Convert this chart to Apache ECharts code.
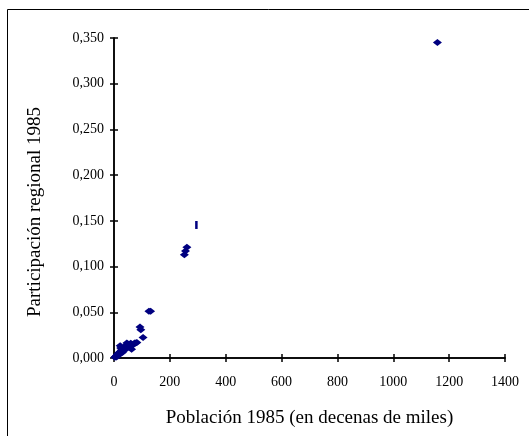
<!DOCTYPE html>
<html>
<head>
<meta charset="utf-8">
<script src="https://cdn.jsdelivr.net/npm/echarts@6/dist/echarts.min.js"></script>
<style>
html,body{margin:0;padding:0;background:#fff;}
#chart{width:529px;height:436px;}
</style>
</head>
<body>
<div id="chart"></div>
<script>
// Population 1985 (tens of thousands) and regional share 1985
const poblacion = [3,5,7,9,10,12,14,16,18,20,22,24,26,28,30,32,35,38,40,42,46,50,53,56,60,63,66,70,74,78,82,
  93,96,104,125,131,252,256,261,1158];
const participacion = [0.0008,0.0015,0.002,0.0012,0.003,0.004,0.0025,0.005,0.006,0.0045,0.0135,0.011,0.008,0.009,0.006,0.010,0.0105,0.012,0.009,0.0135,0.0165,0.014,0.015,0.012,0.016,0.0095,0.014,0.015,0.0165,0.0165,0.017,
  0.034,0.031,0.0225,0.051,0.051,0.113,0.117,0.121,0.345];
// Point drawn with a thin vertical marker
const poblacionBar = [295];
const participacionBar = [0.1455];

const xTicks = {min:0, max:1400, interval:200};
const yTicks = {min:0, max:0.35, interval:0.05};
const xTitle = 'Población 1985 (en decenas de miles)';
const yTitle = 'Participación regional 1985';

const font = 'Liberation Serif';
const chart = echarts.init(document.getElementById('chart'));
const pts = poblacion.map((x,i)=>[x, participacion[i]]);
const barPts = poblacionBar.map((x,i)=>[x, participacionBar[i]]);

const axisLine = {show:true, lineStyle:{color:'#000', width:1.5}};
chart.setOption({
  animation:false,
  backgroundColor:'#fff',
  graphic:[{type:'rect', shape:{x:7.5,y:9.5,width:700,height:700}, style:{fill:null, stroke:'#000', lineWidth:1}, silent:true}],
  grid:{left:114, right:24, top:38, bottom:78},
  xAxis:[{
    type:'value', min:xTicks.min, max:xTicks.max, interval:xTicks.interval, position:'bottom',
    axisLine:axisLine, axisTick:{show:true, length:4, lineStyle:{color:'#000', width:1.5}},
    splitLine:{show:false},
    axisLabel:{color:'#000', fontFamily:font, fontSize:14, margin:17, formatter:v=>String(v)},
    name:xTitle, nameLocation:'middle', nameGap:51,
    nameTextStyle:{color:'#000', fontFamily:font, fontSize:19}
  },{
    type:'value', min:xTicks.min, max:xTicks.max, interval:xTicks.interval, position:'bottom',
    axisLine:axisLine, axisTick:{show:true, inside:true, length:4, lineStyle:{color:'#000', width:1.5}},
    splitLine:{show:false}, axisLabel:{show:false}
  }],
  yAxis:[{
    type:'value', min:yTicks.min, max:yTicks.max, interval:yTicks.interval, position:'left',
    axisLine:axisLine, axisTick:{show:true, length:4, lineStyle:{color:'#000', width:1.5}},
    splitLine:{show:false},
    axisLabel:{color:'#000', fontFamily:font, fontSize:14, margin:10,
      formatter:v=>v.toFixed(3).replace('.',',')},
    name:yTitle, nameLocation:'middle', nameGap:69, nameRotate:90,
    nameTextStyle:{color:'#000', fontFamily:font, fontSize:19, padding:[0,28,0,0]}
  },{
    type:'value', min:yTicks.min, max:yTicks.max, interval:yTicks.interval, position:'left',
    axisLine:axisLine, axisTick:{show:true, inside:true, length:4, lineStyle:{color:'#000', width:1.5}},
    splitLine:{show:false}, axisLabel:{show:false}
  }],
  series:[{
    type:'scatter', data:pts, symbol:'diamond', symbolSize:[9,7],
    itemStyle:{color:'#000080', opacity:1}
  },{
    type:'scatter', data:barPts, symbol:'rect', symbolSize:[2.5,8],
    itemStyle:{color:'#000080', opacity:1}
  }]
});
</script>
</body>
</html>
